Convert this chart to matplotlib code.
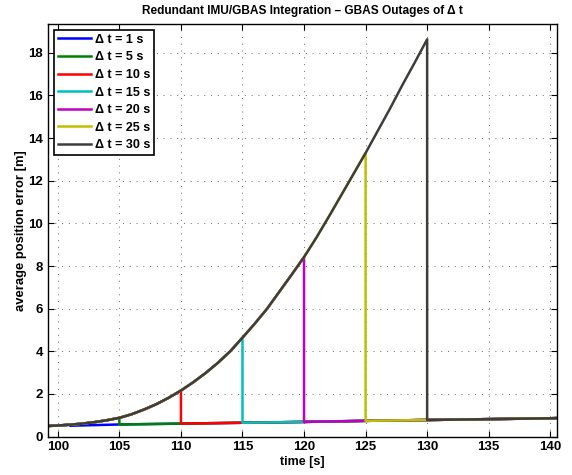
import numpy as np
import matplotlib
matplotlib.use('Agg')
import matplotlib.pyplot as plt

plt.rcParams['font.family'] = ['Liberation Sans', 'DejaVu Sans']
plt.rcParams['font.weight'] = 'bold'

# error growth during an outage starting at t = 100 s
t_curve = [99.2, 100, 101, 102, 103, 104, 105, 106, 107, 108, 109, 110,
           111, 112, 113, 114, 115, 116, 117, 118, 119, 120,
           121, 122, 123, 124, 125, 126, 127, 128, 129, 130]
err_curve = [0.50, 0.52, 0.56, 0.61, 0.68, 0.77, 0.88, 1.05, 1.27, 1.52, 1.82, 2.16,
             2.55, 2.98, 3.46, 4.00, 4.64, 5.30, 6.00, 6.80, 7.60, 8.42,
             9.33, 10.30, 11.30, 12.30, 13.30, 14.35, 15.40, 16.50, 17.55, 18.63]

# error after GBAS is available again
t_base = [99.2, 101, 105, 110, 115, 120, 125, 130, 135, 140, 140.6]
err_base = [0.50, 0.51, 0.57, 0.61, 0.65, 0.69, 0.74, 0.78, 0.82, 0.86, 0.87]

outages = [1, 5, 10, 15, 20, 25, 30]
colors = ['#0000ff', '#008000', '#ff0000', '#00bfbf', '#bf00bf', '#bfbf00', '#3e3d3a']

fig = plt.figure(figsize=(5.72, 4.75), dpi=100)
ax = fig.add_axes([0.0839, 0.0808, 0.8899, 0.8687])

tc = np.array(t_curve)
ec = np.array(err_curve)
tb = np.array(t_base)
eb = np.array(err_base)
for dt, col in zip(outages, colors):
    te = 100 + dt
    m1 = tc <= te
    m2 = tb >= te
    x = np.concatenate([tc[m1], tb[m2]])
    y = np.concatenate([ec[m1], eb[m2]])
    ax.plot(x, y, color=col, lw=1.8, label='\u0394 t = %d s' % dt)

ax.set_xlim(99.2, 140.55)
ax.set_ylim(0, 19.35)
ax.set_xticks(range(100, 141, 5))
ax.set_yticks(range(0, 19, 2))
ax.grid(True, linestyle=(0, (1, 5.5)), color='#777777', lw=0.75)
ax.tick_params(direction='in', top=True, right=True, length=4, width=0.8, labelsize=9.5)
for s in ax.spines.values():
    s.set_linewidth(1.0)

ax.set_xlabel('time [s]', fontsize=9, fontweight='bold', labelpad=2)
ax.set_ylabel('average position error [m]', fontsize=9.4, fontweight='bold', labelpad=1)
ax.set_title('Redundant IMU/GBAS Integration \u2013 GBAS Outages of \u0394 t',
             fontsize=8.6, fontweight='bold', pad=7)

leg = ax.legend(loc='upper left', bbox_to_anchor=(0.0118, 0.9855), borderaxespad=0,
                fancybox=False, framealpha=1, edgecolor='black', fontsize=9,
                handlelength=2.7, labelspacing=0.45, handletextpad=0.3, borderpad=0.3)
leg.get_frame().set_linewidth(1.2)

plt.savefig('out.png', dpi=100)
